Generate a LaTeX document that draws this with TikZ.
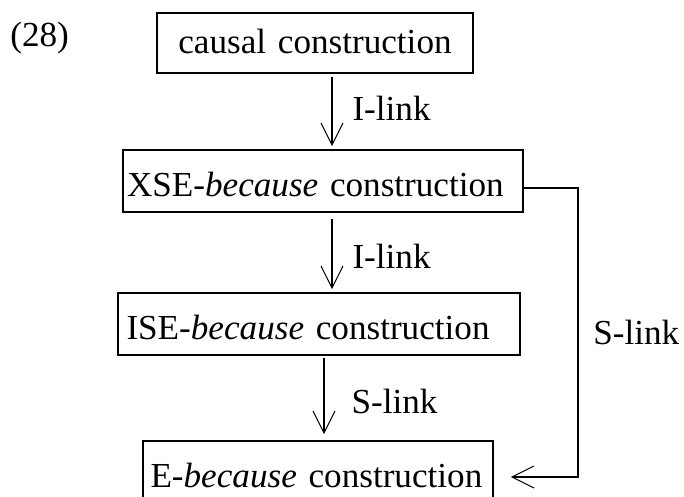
\documentclass[tikz,border=0pt]{standalone}
\usepackage{fontspec}
\setmainfont{Liberation Serif}
\usetikzlibrary{arrows.meta}
\tikzset{
  cbox/.style={draw, line width=1pt, minimum height=1.24cm, inner ysep=0pt, text height=0.64cm, text depth=0pt, align=left},
  link/.style={-{Straight Barb[length=0.44cm,width=0.44cm]}, line width=0.6pt},
  lab/.style={anchor=west, inner sep=0pt}
}
\begin{document}
\begin{tikzpicture}[font=\fontsize{20}{24}\selectfont]
\useasboundingbox (0,0) rectangle (13.68,-9.94);
\node[anchor=base west, inner sep=0pt] (num) at (0.2,-0.94) {(28)};
\node[cbox, minimum height=1.2cm, text height=0.44cm, align=center, inner xsep=0.2cm, text width=5.92cm] (causal) at (6.30,-0.86) {causal construction};
\node[cbox, inner xsep=0.08cm, text width=7.84cm] (xse) at (6.46,-3.62) {XSE-\textit{because} construction};
\node[cbox, inner xsep=0.17cm, text width=7.70cm] (ise) at (6.38,-6.48) {ISE-\textit{because} construction};
\node[cbox, inner xsep=0.15cm, text width=6.70cm] (ebec) at (6.36,-9.44) {\mbox{E-\textit{because} construction}};
\coordinate (rail) at (11.56,-6.64);
\draw[link, shorten <=0.06cm, shorten >=0.06cm] ([xshift=0.34cm]causal.south) -- ([xshift=0.34cm]causal.south |- xse.north)
  node[lab, midway, xshift=0.4cm, yshift=0.07cm] {I-link};
\draw[link, shorten <=0.12cm, shorten >=0.06cm] ([xshift=0.18cm]xse.south) -- ([xshift=0.18cm]xse.south |- ise.north)
  node[lab, midway, xshift=0.4cm, yshift=-0.07cm] {I-link};
\draw[link, shorten <=0.04cm, shorten >=0.12cm] ([xshift=0.10cm]ise.south) -- ([xshift=0.10cm]ise.south |- ebec.north)
  node[lab, midway, xshift=0.54cm, yshift=-0.06cm] {S-link};
\draw[link, shorten >=0.34cm] ([yshift=-0.14cm]xse.east) -| (rail) |- ([yshift=-0.1cm]ebec.east);
\node[lab] (slab) at ([xshift=0.3cm]rail) {S-link};
\end{tikzpicture}
\end{document}
